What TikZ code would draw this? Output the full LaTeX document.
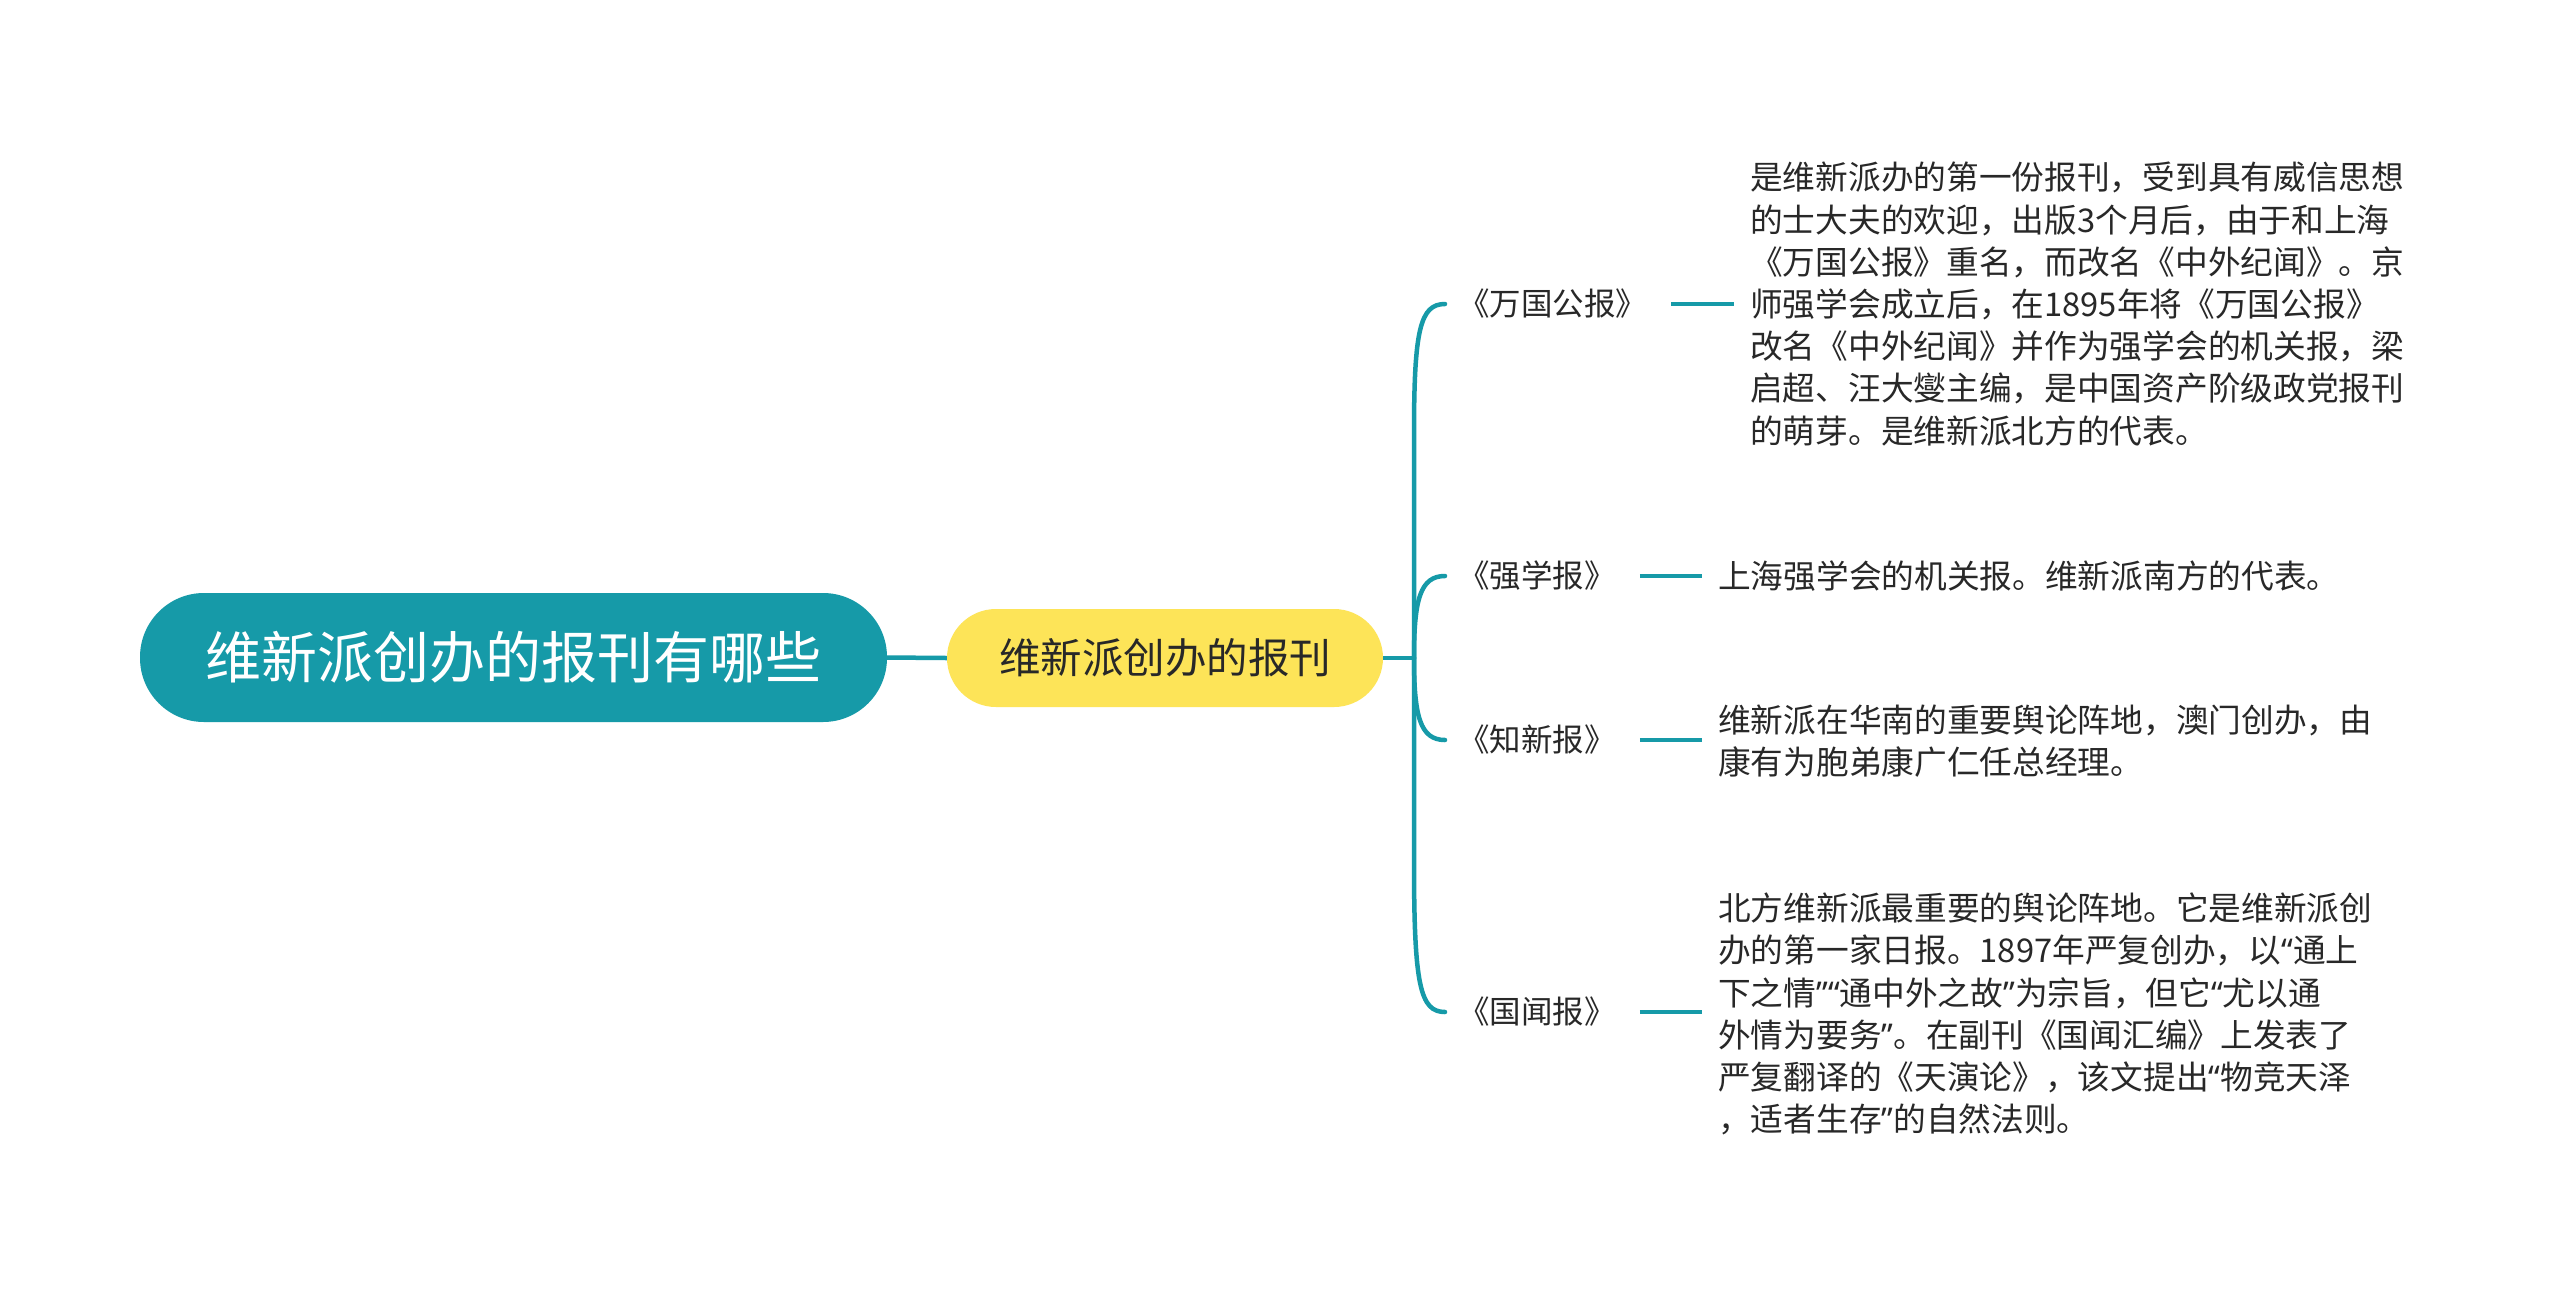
\documentclass[tikz,border=0pt]{standalone}
\usepackage{fontspec}
\setmainfont{Noto Sans CJK SC}
\newfontfamily\quotefont{Noto Sans}
\newcommand{\myoq}{{\quotefont “}}
\newcommand{\mycq}{{\quotefont ”}}
\definecolor{myteal}{RGB}{22,154,168}
\definecolor{myyellow}{RGB}{253,228,88}
\definecolor{mytext}{RGB}{40,40,40}
\begin{document}
\begin{tikzpicture}[x=1pt,y=-1pt,
  conn/.style={draw=myteal,line width=4.5pt},
  rootbox/.style={fill=myteal,text=white,rounded corners=64pt,minimum width=747pt,minimum height=129pt,inner sep=0pt,font=\fontsize{56}{62}\selectfont},
  lvlbox/.style={fill=myyellow,text=mytext,rounded corners=49pt,minimum width=436pt,minimum height=98pt,inner sep=0pt,font=\fontsize{41.5}{48}\selectfont},
  child/.style={anchor=west,inner sep=0pt,text=mytext,font=\fontsize{31.5}{40}\selectfont},
  desc/.style={anchor=west,inner sep=0pt,align=left,text=mytext,font=\fontsize{32.7}{42.2}\selectfont}]
\useasboundingbox (0,0) rectangle (2560,1294);
\fill[white] (0,0) rectangle (2560,1294);

\node[rootbox] (root) at (513.5,657.5) {维新派创办的报刊有哪些};
\node[lvlbox] (l1) at (1165,658) {维新派创办的报刊};
\coordinate (hub) at (1414,658);

\node[child] (c1) at (1458,304) {《万国公报》};
\node[child] (c2) at (1458,576) {《强学报》};
\node[child] (c3) at (1458,740) {《知新报》};
\node[child] (c4) at (1458,1012) {《国闻报》};

\node[desc] (d1) at (1750,304) {是维新派办的第一份报刊，受到具有威信思想\\的士大夫的欢迎，出版3个月后，由于和上海\\《万国公报》重名，而改名《中外纪闻》。京\\师强学会成立后，在1895年将《万国公报》\\改名《中外纪闻》并作为强学会的机关报，梁\\启超、汪大燮主编，是中国资产阶级政党报刊\\的萌芽。是维新派北方的代表。};
\node[desc] (d2) at (1718,576) {上海强学会的机关报。维新派南方的代表。};
\node[desc] (d3) at (1718,741) {维新派在华南的重要舆论阵地，澳门创办，由\\康有为胞弟康广仁任总经理。};
\node[desc] (d4) at (1718,1014) {北方维新派最重要的舆论阵地。它是维新派创\\办的第一家日报。1897年严复创办，以\myoq 通上\\下之情\mycq\myoq 通中外之故\mycq 为宗旨，但它\myoq 尤以通\\外情为要务\mycq 。在副刊《国闻汇编》上发表了\\严复翻译的《天演论》，该文提出\myoq 物竞天泽\\，适者生存\mycq 的自然法则。};

\draw[conn] (root.east) -- (l1.west);
\draw[conn] (l1.east) -- (hub);
\draw[conn,line cap=round] (hub) -- (1414,434) .. controls (1414,330) and (1420,304) .. (1445,304);
\draw[conn,line cap=round] (hub) .. controls (1414,600) and (1420,576) .. (1445,576);
\draw[conn,line cap=round] (hub) .. controls (1414,716) and (1420,740) .. (1445,740);
\draw[conn,line cap=round] (hub) -- (1414,862) .. controls (1414,985) and (1420,1012) .. (1445,1012);

\draw[conn] ([xshift=24pt]c1.east) -- ([xshift=-16pt]d1.west |- c1.east);
\draw[conn] ([xshift=24pt]c2.east) -- ([xshift=-16pt]d2.west);
\draw[conn] ([xshift=24pt]c3.east) -- ([xshift=-16pt]d3.west |- c3.east);
\draw[conn] ([xshift=24pt]c4.east) -- ([xshift=-16pt]d4.west |- c4.east);
\end{tikzpicture}
\end{document}
